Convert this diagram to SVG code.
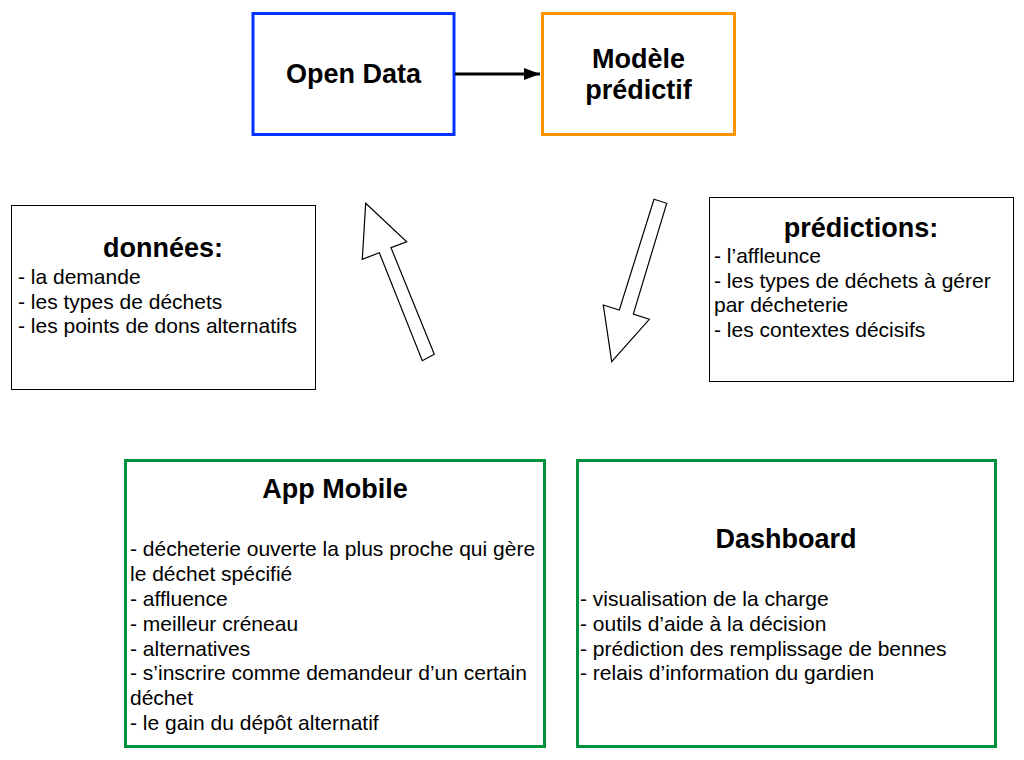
<svg xmlns="http://www.w3.org/2000/svg" width="1024" height="760" viewBox="0 0 1024 760">
<style>
  .title{font-family:"Liberation Sans",Arial,sans-serif;font-weight:bold;font-size:27px;fill:#000;text-anchor:middle}
  .body{font-family:"Liberation Sans",Arial,sans-serif;font-size:21px;fill:#000}
  .thin{fill:#fff;stroke:#000;stroke-width:1}
  .green{fill:#fff;stroke:#00913F;stroke-width:3}
  .big{fill:#fff;stroke:#000;stroke-width:1.2;stroke-linejoin:miter}
</style>
<defs>
  <marker id="ah" markerWidth="16" markerHeight="12" refX="16" refY="6" orient="auto" markerUnits="userSpaceOnUse" viewBox="0 0 16 12">
    <path d="M0,0 L16,6 L0,12 Z" fill="#000"/>
  </marker>
</defs>
<rect width="1024" height="760" fill="#fff"/>
<g id="open-data">
  <rect x="253" y="13.5" width="201" height="121" fill="#fff" stroke="#0433FF" stroke-width="3"/>
  <text class="title" x="353.5" y="83">Open Data</text>
</g>
<g id="modele">
  <rect x="542.5" y="13.5" width="192" height="121" fill="#fff" stroke="#FF9300" stroke-width="3"/>
  <text class="title" x="638.5" y="68">Modèle</text>
  <text class="title" x="638.5" y="99">prédictif</text>
</g>
<g id="donnees">
  <rect class="thin" x="11.5" y="205.5" width="304" height="184"/>
  <text class="title" x="163" y="257">données:</text>
  <text class="body" x="18" y="284">- la demande</text>
  <text class="body" x="18" y="308.5">- les types de déchets</text>
  <text class="body" x="18" y="333">- les points de dons alternatifs</text>
</g>
<g id="predictions">
  <rect class="thin" x="709.5" y="197.5" width="304" height="184"/>
  <text class="title" x="861" y="237">prédictions:</text>
  <text class="body" x="714" y="263">- l’affleunce</text>
  <text class="body" x="714" y="288">- les types de déchets à gérer</text>
  <text class="body" x="714" y="312">par décheterie</text>
  <text class="body" x="714" y="337">- les contextes décisifs</text>
</g>
<g id="app-mobile">
  <rect class="green" x="125.5" y="460.5" width="419" height="286"/>
  <text class="title" x="335" y="498">App Mobile</text>
  <text class="body" x="130" y="556">- décheterie ouverte la plus proche qui gère</text>
  <text class="body" x="130" y="581">le déchet spécifié</text>
  <text class="body" x="130" y="606">- affluence</text>
  <text class="body" x="130" y="631">- meilleur créneau</text>
  <text class="body" x="130" y="656">- alternatives</text>
  <text class="body" x="130" y="680">- s’inscrire comme demandeur d’un certain</text>
  <text class="body" x="130" y="705">déchet</text>
  <text class="body" x="130" y="730">- le gain du dépôt alternatif</text>
</g>
<g id="dashboard">
  <rect class="green" x="577.5" y="460.5" width="418" height="286"/>
  <text class="title" x="786" y="548">Dashboard</text>
  <text class="body" x="580" y="606">- visualisation de la charge</text>
  <text class="body" x="580" y="631">- outils d’aide à la décision</text>
  <text class="body" x="580" y="656">- prédiction des remplissage de bennes</text>
  <text class="body" x="580" y="680">- relais d’information du gardien</text>
</g>
<g id="connectors">
  <line x1="455" y1="74" x2="540" y2="74" stroke="#000" stroke-width="3" marker-end="url(#ah)"/>
  <polygon class="big" points="365.7,203.3 406.7,241.7 391,247.7 434.3,354.3 422.3,360.7 379.3,252.7 362.3,259.3"/>
  <polygon class="big" points="654,199.3 666.7,203.3 633.3,314 649.3,319.3 611.7,361.7 603.3,305 619.3,310"/>
</g>
</svg>
